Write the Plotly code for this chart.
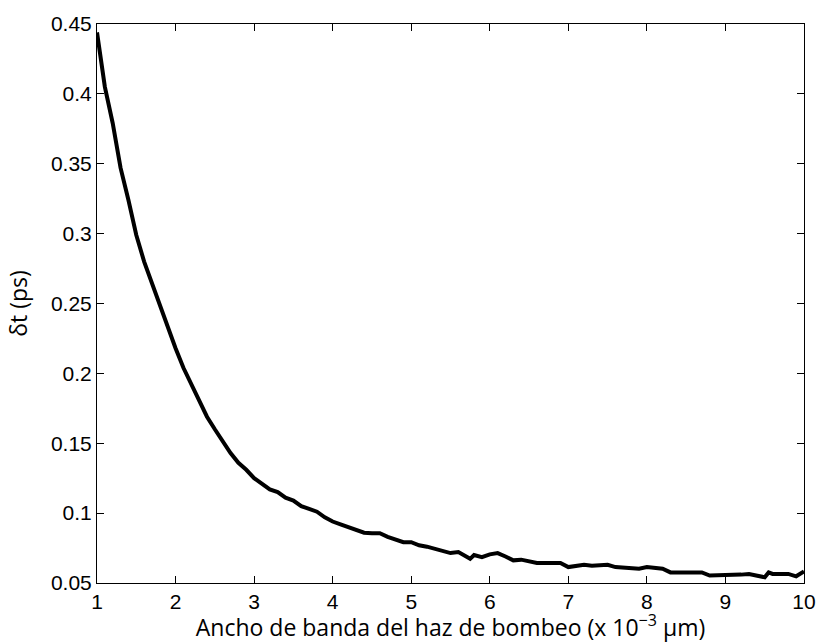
import plotly.graph_objects as go

# Bandwidth of the pump beam (x 10^-3 um)
x_vals = [1.0, 1.1, 1.2, 1.3, 1.4, 1.5, 1.6, 1.7, 1.8, 1.9,
          2.0, 2.1, 2.2, 2.3, 2.4, 2.5, 2.6, 2.7, 2.8, 2.9,
          3.0, 3.1, 3.2, 3.3, 3.4, 3.5, 3.6, 3.7, 3.8, 3.9,
          4.0, 4.1, 4.2, 4.3, 4.4, 4.5, 4.6, 4.7, 4.8, 4.9,
          5.0, 5.1, 5.2, 5.3, 5.4, 5.5, 5.6, 5.7, 5.75, 5.8, 5.9,
          6.0, 6.1, 6.2, 6.3, 6.4, 6.5, 6.6, 6.7, 6.8, 6.9,
          7.0, 7.1, 7.2, 7.3, 7.4, 7.5, 7.6, 7.7, 7.8, 7.9,
          8.0, 8.1, 8.2, 8.3, 8.4, 8.5, 8.6, 8.7, 8.8, 8.9,
          9.0, 9.1, 9.2, 9.3, 9.4, 9.5, 9.55, 9.6, 9.7, 9.8, 9.9, 10.0]

# delta t (ps)
dt_vals = [0.444, 0.405, 0.379, 0.347, 0.324, 0.299, 0.280, 0.264, 0.250, 0.233,
           0.218, 0.204, 0.192, 0.180, 0.169, 0.160, 0.151, 0.143, 0.136, 0.131,
           0.125, 0.121, 0.117, 0.115, 0.111, 0.109, 0.105, 0.103, 0.101, 0.097,
           0.094, 0.092, 0.090, 0.088, 0.086, 0.0856, 0.0856, 0.083, 0.081, 0.0792,
           0.0792, 0.077, 0.076, 0.0745, 0.073, 0.0714, 0.0721, 0.069, 0.0673, 0.070, 0.0685,
           0.0705, 0.0714, 0.069, 0.0662, 0.0667, 0.0655, 0.0643, 0.0643, 0.0643, 0.0643,
           0.0614, 0.0622, 0.0630, 0.0624, 0.0628, 0.0630, 0.0614, 0.0610, 0.0600, 0.0602,
           0.0614, 0.0605, 0.0602, 0.0576, 0.0576, 0.0576, 0.0576, 0.0576, 0.0553, 0.0553,
           0.0553, 0.0553, 0.0560, 0.0565, 0.0555, 0.0541, 0.0576, 0.0565, 0.0565, 0.0565, 0.0548, 0.0583]

x_ticks = [1, 2, 3, 4, 5, 6, 7, 8, 9, 10]
y_ticks = [0.05, 0.1, 0.15, 0.2, 0.25, 0.3, 0.35, 0.4, 0.45]
y_tick_text = ["0.05", "0.1", "0.15", "0.2", "0.25", "0.3", "0.35", "0.4", "0.45"]

x_title = "Ancho de banda del haz de bombeo (x 10<sup>−3</sup> μm)"
y_title = "δt (ps)"

fig = go.Figure()
fig.add_trace(go.Scatter(x=x_vals, y=dt_vals, mode="lines",
                         line=dict(color="black", width=4), showlegend=False))

tick_font = dict(family="Liberation Sans, Arial, sans-serif", size=21, color="black")
title_font = dict(family="Open Sans, sans-serif", size=23, color="black")

fig.update_layout(
    width=828, height=643,
    margin=dict(l=97, r=15, t=20, b=60),
    paper_bgcolor="white", plot_bgcolor="white",
    xaxis=dict(range=[1, 10], tickvals=x_ticks, ticks="inside", ticklen=7,
               tickcolor="black", showline=True, linecolor="black", linewidth=1,
               mirror="ticks", showgrid=False, zeroline=False, tickfont=tick_font,
               title=dict(text=x_title, font=title_font, standoff=0)),
    yaxis=dict(range=[0.05, 0.45], tickvals=y_ticks, ticktext=y_tick_text,
               ticks="inside", ticklen=7, tickcolor="black", showline=True,
               linecolor="black", linewidth=1, mirror="ticks", showgrid=False,
               zeroline=False, tickfont=tick_font,
               title=dict(text=y_title, font=title_font, standoff=16)),
)

fig.write_html("out.html")
